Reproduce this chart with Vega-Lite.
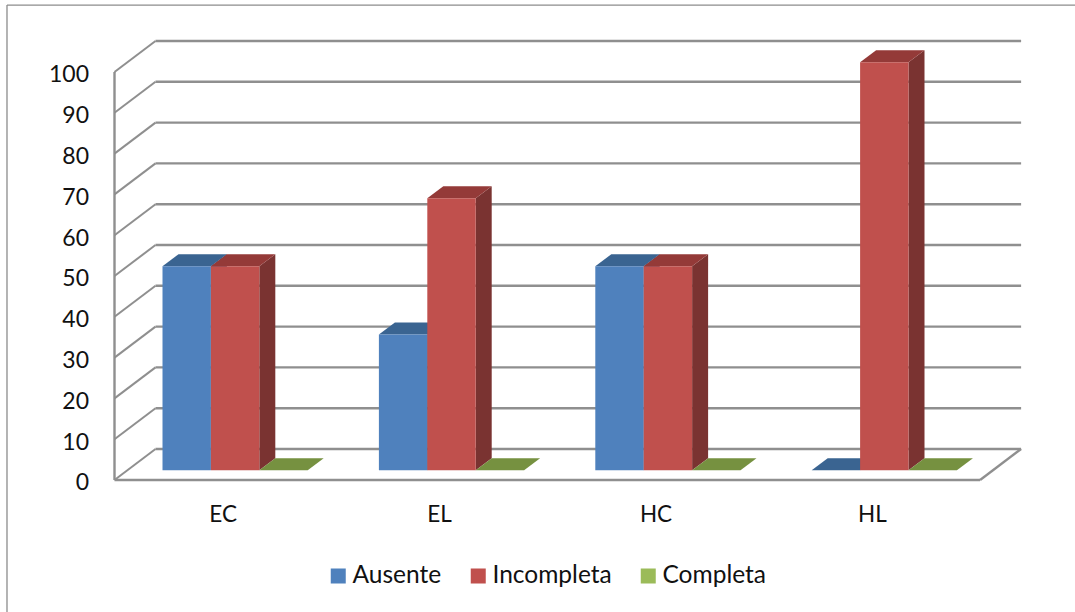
{
  "$schema": "https://vega.github.io/schema/vega-lite/v6.json",
  "description": "Porcentaje por categoria en columnas agrupadas con caras de profundidad",
  "width": 1075,
  "height": 612,
  "padding": 0,
  "autosize": "none",
  "background": "white",
  "config": {
    "view": {"stroke": null},
    "axis": {"grid": false, "domain": false, "ticks": false, "title": null}
  },
  "datasets": {
    "ticks": [{"tick":0},{"tick":10},{"tick":20},{"tick":30},{"tick":40},{"tick":50},{"tick":60},{"tick":70},{"tick":80},{"tick":90},{"tick":100}],
    "bars": [
      {"category":"EC","series":"Ausente","value":50},
      {"category":"EC","series":"Incompleta","value":50},
      {"category":"EC","series":"Completa","value":0},
      {"category":"EL","series":"Ausente","value":33.3},
      {"category":"EL","series":"Incompleta","value":66.7},
      {"category":"EL","series":"Completa","value":0},
      {"category":"HC","series":"Ausente","value":50},
      {"category":"HC","series":"Incompleta","value":50},
      {"category":"HC","series":"Completa","value":0},
      {"category":"HL","series":"Ausente","value":0},
      {"category":"HL","series":"Incompleta","value":100},
      {"category":"HL","series":"Completa","value":0}
    ]
  },
  "data": {"name": "bars"},
  "transform": [
    {"calculate": "indexof(['EC','EL','HC','HL'],datum.category)+0.2218+indexof(['Ausente','Incompleta','Completa'],datum.series)*0.2237", "as": "left"},
    {"calculate": "datum.left+0.2237", "as": "right"},
    {"calculate": "datum.value+2.38", "as": "top"},
    {"calculate": "datum.category+datum.series", "as": "id"}
  ],
  "layer": [
    {
      "data": {"name": "ticks"},
      "transform": [{"calculate": "datum.tick+7.6", "as": "back"}],
      "mark": {"type": "rule", "color": "#8f8f8f", "strokeWidth": 2.4},
      "encoding": {
        "x": {"datum": 0.1895, "type": "quantitative", "scale": {"domain": [-0.52911, 4.43854], "nice": false, "zero": false}},
        "x2": {"datum": 4.1895},
        "y": {"field": "back", "type": "quantitative", "scale": {"domain": [-32.353, 117.647], "nice": false, "zero": false}}
      }
    },
    {
      "data": {"name": "ticks"},
      "transform": [{"calculate": "datum.tick+7.6", "as": "back"}],
      "mark": {"type": "rule", "color": "#8f8f8f", "strokeWidth": 2},
      "encoding": {
        "x": {"datum": 0, "type": "quantitative", "scale": {"domain": [-0.52911, 4.43854], "nice": false, "zero": false}},
        "x2": {"datum": 0.1895},
        "y": {"field": "tick", "type": "quantitative", "scale": {"domain": [-32.353, 117.647], "nice": false, "zero": false}},
        "y2": {"field": "back"}
      }
    },
    {
      "data": {"values": [{"x0":0,"x1":0,"y0":0,"y1":100},{"x0":0,"x1":4,"y0":0,"y1":0},{"x0":4,"x1":4.1895,"y0":0,"y1":7.6}]},
      "mark": {"type": "rule", "color": "#8f8f8f", "strokeWidth": 2.4},
      "encoding": {
        "x": {"field": "x0", "type": "quantitative", "scale": {"domain": [-0.52911, 4.43854], "nice": false, "zero": false}},
        "x2": {"field": "x1"},
        "y": {"field": "y0", "type": "quantitative", "scale": {"domain": [-32.353, 117.647], "nice": false, "zero": false}},
        "y2": {"field": "y1"}
      }
    },
    {
      "data": {"values": [{"x0":-0.4968,"x1":-0.4968,"y0":-32.353,"y1":116.4},{"x0":-0.4968,"x1":4.43854,"y0":116.4,"y1":116.4}]},
      "mark": {"type": "rule", "color": "#8c8c8c", "strokeWidth": 1.3},
      "encoding": {
        "x": {"field": "x0", "type": "quantitative", "scale": {"domain": [-0.52911, 4.43854], "nice": false, "zero": false}},
        "x2": {"field": "x1"},
        "y": {"field": "y0", "type": "quantitative", "scale": {"domain": [-32.353, 117.647], "nice": false, "zero": false}},
        "y2": {"field": "y1"}
      }
    },
    {
      "transform": [
        {"calculate": "[0,1]", "as": "d"},
        {"flatten": ["d"]},
        {"calculate": "datum.right+datum.d*0.0739", "as": "sx"},
        {"calculate": "datum.top+datum.d*2.94", "as": "sy"},
        {"calculate": "2.38+datum.d*2.94", "as": "sy2"}
      ],
      "mark": {"type": "area", "interpolate": "linear"},
      "encoding": {
        "x": {"field": "sx", "type": "quantitative", "scale": {"domain": [-0.52911, 4.43854], "nice": false, "zero": false}},
        "y": {"field": "sy", "type": "quantitative", "scale": {"domain": [-32.353, 117.647], "nice": false, "zero": false}},
        "y2": {"field": "sy2"},
        "detail": {"field": "id"},
        "color": {"field": "series", "type": "nominal", "legend": null, "scale": {"domain": ["Ausente","Incompleta","Completa"], "range": ["#2f4f75","#7a3331","#5f7533"]}}
      }
    },
    {
      "transform": [
        {"calculate": "[0,1]", "as": "d"},
        {"flatten": ["d"]},
        {"calculate": "datum.left+datum.d*0.0739", "as": "tx"},
        {"calculate": "datum.right+datum.d*0.0739", "as": "tx2"},
        {"calculate": "datum.top+datum.d*2.94", "as": "ty"}
      ],
      "mark": {"type": "area", "orient": "horizontal", "interpolate": "linear"},
      "encoding": {
        "y": {"field": "ty", "type": "quantitative", "scale": {"domain": [-32.353, 117.647], "nice": false, "zero": false}},
        "x": {"field": "tx", "type": "quantitative", "scale": {"domain": [-0.52911, 4.43854], "nice": false, "zero": false}},
        "x2": {"field": "tx2"},
        "detail": {"field": "id"},
        "color": {"field": "series", "type": "nominal", "legend": null, "scale": {"domain": ["Ausente","Incompleta","Completa"], "range": ["#3a6491","#943a38","#769140"]}}
      }
    },
    {
      "mark": {"type": "rect"},
      "transform": [{"calculate": "2.38", "as": "floor"}],
      "encoding": {
        "x": {
          "field": "left", "type": "quantitative",
          "scale": {"domain": [-0.52911, 4.43854], "nice": false, "zero": false},
          "axis": {
            "orient": "bottom", "offset": -109, "title": null, "grid": false, "domain": false, "ticks": false,
            "values": [0.5, 1.5, 2.5, 3.5],
            "labelExpr": "['EC','EL','HC','HL'][floor(datum.value)]",
            "labelFont": "Lato", "labelFontSize": 22.5, "labelColor": "#111111", "labelPadding": 0
          }
        },
        "x2": {"field": "right"},
        "y": {
          "field": "top", "type": "quantitative",
          "scale": {"domain": [-32.353, 117.647], "nice": false, "zero": false},
          "axis": {
            "orient": "left", "offset": -114.5, "title": null, "grid": false, "domain": false, "ticks": false,
            "values": [0,10,20,30,40,50,60,70,80,90,100],
            "labelFont": "Lato", "labelFontSize": 23, "labelColor": "#111111", "labelPadding": 26, "labelOffset": 3
          }
        },
        "y2": {"field": "floor"},
        "color": {
          "field": "series", "type": "nominal",
          "scale": {"domain": ["Ausente","Incompleta","Completa"], "range": ["#4f81bd","#c0504d","#9bbb59"]},
          "legend": {
            "orient": "none", "legendX": 326, "legendY": 564, "direction": "horizontal", "title": null,
            "symbolType": "square", "symbolSize": 225, "symbolStrokeWidth": 0, "symbolOpacity": 1,
            "labelFont": "Lato", "labelFontSize": 24.5, "labelColor": "#111111", "labelOffset": 2, "columnPadding": 24, "clipHeight": 24
          }
        }
      }
    }
  ],
  "resolve": {"scale": {"color": "independent"}}
}
